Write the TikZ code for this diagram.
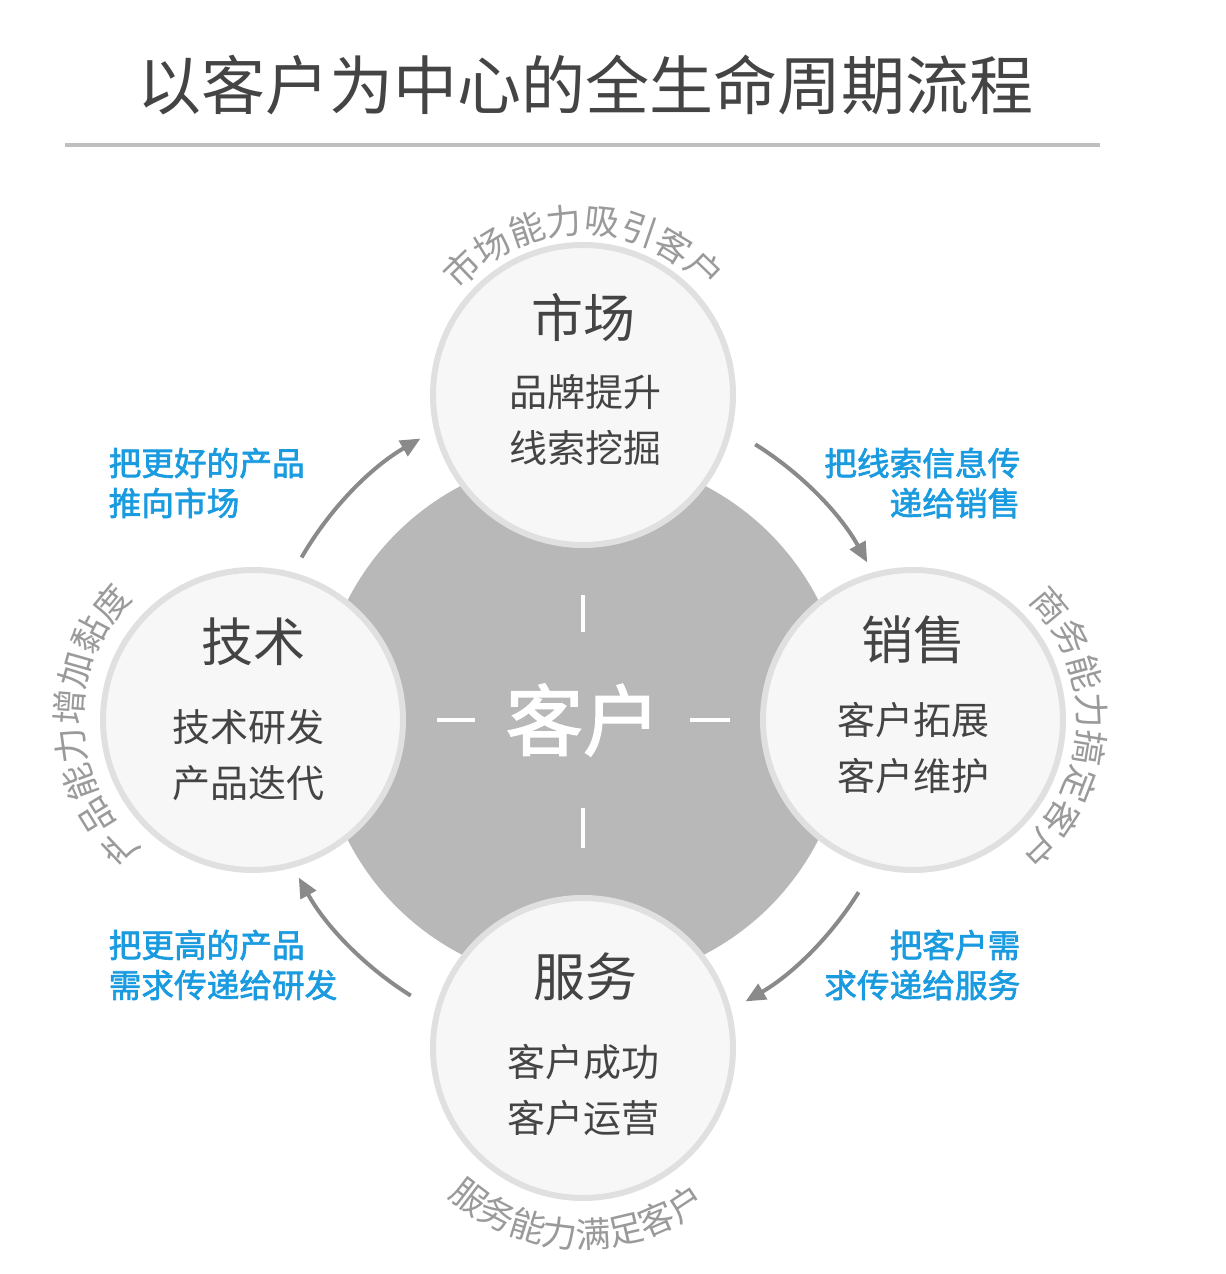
\documentclass[tikz,border=0pt]{standalone}
\usepackage{fontspec}
\newfontfamily\cjk{Noto Sans CJK SC}
\newfontfamily\cjkb{Noto Sans CJK SC}[FakeBold=2]
\usetikzlibrary{arrows.meta,decorations.text}
\definecolor{dk}{HTML}{444444}
\definecolor{bl}{HTML}{1A9BE0}
\definecolor{cg}{HTML}{B8B8B8}
\definecolor{ar}{HTML}{8A8A8A}
\definecolor{ag}{HTML}{9A9A9A}
\begin{document}
\begin{tikzpicture}[x=0.75pt,y=0.75pt,
  circ/.style={circle,minimum size=225pt,fill=black!3,draw=black!12,line width=4.5pt},
  ttl/.style={font=\cjk\fontsize{39}{40}\selectfont,text=dk},
  sub/.style={font=\cjk\fontsize{28.5}{42}\selectfont,text=dk,align=center},
  lbl/.style={font=\cjkb\fontsize{24.5}{30}\selectfont,text=bl},
  arr/.style={line width=3pt,draw=ar,-{Triangle[length=15pt,width=13pt,fill=ar]}},
  wl/.style={line width=3pt,draw=white},
  arc/.style={decorate,decoration={text along path,text align=center,text color=ag,text format delimiters={|}{|}}}
]
\useasboundingbox (0,0) rectangle (1226,1274);
\node[font=\cjk\fontsize{48}{50}\selectfont,text=dk] (title) at (585,1189) {以客户为中心的全生命周期流程};
\draw[line width=3pt,draw=black!25] (65,1129) coordinate (l1) -- (1100,1129) coordinate (l2);
\coordinate (C) at (583,554);
\node[circle,fill=cg,minimum size=396pt] (core) at (C) {};
\node[circ] (T) at (583,879) {};
\node[circ] (R) at (913,554) {};
\node[circ] (B) at (583,226) {};
\node[circ] (L) at (253,554) {};
% center
\node[font=\cjkb\fontsize{58}{60}\selectfont,text=white] (kh) at (C) {客户};
\draw[wl] (437,554) coordinate (h1) -- (475,554) coordinate (h2);
\draw[wl] (690,554) coordinate (h3) -- (730,554) coordinate (h4);
\draw[wl] (583,679) coordinate (v1) -- (583,642) coordinate (v2);
\draw[wl] (583,466) coordinate (v3) -- (583,426) coordinate (v4);
% titles
\node[ttl] (t1) at (583,956) {市场};
\node[sub] (s1) at (585,854) {品牌提升\\线索挖掘};
\node[ttl] (t2) at (913,634) {销售};
\node[sub] (s2) at (913,526) {客户拓展\\客户维护};
\node[ttl] (t3) at (585,297) {服务};
\node[sub] (s3) at (583,184) {客户成功\\客户运营};
\node[ttl] (t4) at (253,632) {技术};
\node[sub] (s4) at (248,519) {技术研发\\产品迭代};
% blue labels
\node[lbl,anchor=west,align=left] (b1) at (104,791) {把更好的产品\\推向市场};
\node[lbl,anchor=east,align=right] (b2) at (1025,791) {把线索信息传\\递给销售};
\node[lbl,anchor=west,align=left] (b3) at (104,309) {把更高的产品\\需求传递给研发};
\node[lbl,anchor=east,align=right] (b4) at (1025,309) {把客户需\\求传递给服务};
% arrows
\draw[arr] ([shift={(58:243.75pt)}]C) arc (58:29:243.75pt);
\draw[arr] ([shift={(-32:243.75pt)}]C) arc (-32:-60:243.75pt);
\draw[arr] ([shift={(-122:243.75pt)}]C) arc (-122:-151:243.75pt);
\draw[arr] ([shift={(150:243.75pt)}]C) arc (150:120:243.75pt);
% arc texts
\path[arc,decoration={text={|\cjk\fontsize{26.5}{27}\selectfont|市场能力吸引客户}}] ([shift={(150:121pt)}]T) arc (150:30:121pt);
\path[arc,decoration={text={|\cjk\fontsize{26.5}{27}\selectfont|商务能力搞定客户}}] ([shift={(50:124pt)}]R) arc (50:-56:124pt);
\path[arc,decoration={text={|\cjk\fontsize{26.5}{27}\selectfont|服务能力满足客户}}] ([shift={(-148:150pt)}]B) arc (-148:-36:150pt);
\path[arc,decoration={text={|\cjk\fontsize{26.5}{27}\selectfont|产品能力增加黏度}}] ([shift={(236:128pt)}]L) arc (236:128:128pt);
\end{tikzpicture}
\end{document}
